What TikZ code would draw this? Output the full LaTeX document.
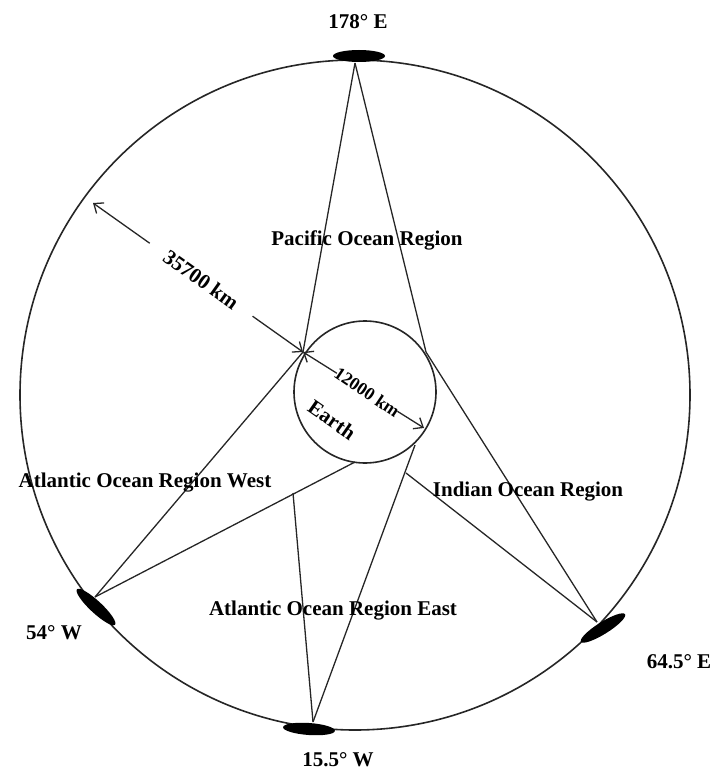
\documentclass[tikz,border=0pt]{standalone}
\usepackage{fontspec}
\setmainfont{Liberation Serif}
\usetikzlibrary{shapes.geometric,arrows.meta,calc}
\begin{document}
\begin{tikzpicture}[x=1pt,y=-1pt,
  lbl/.style={font=\fontsize{21}{24}\selectfont\bfseries, inner sep=1pt},
  smalllbl/.style={font=\fontsize{18}{20}\selectfont\bfseries, inner sep=1pt},
  sat/.style={ellipse, fill=black, draw=none, inner sep=0pt, minimum width=52pt, minimum height=12pt},
  link/.style={line width=1.3pt, black!85},
  dim/.style={line width=1.3pt, black!85, -{Straight Barb[length=8pt,width=13pt,line width=1.3pt]}},
  ring/.style={line width=1.6pt, black!85}
]
\useasboundingbox (0,0) rectangle (714,773);

% orbit and Earth
\node[circle, ring, draw, minimum size=670pt, inner sep=0pt] (orbit) at (355,395) {};
\node[circle, ring, draw, minimum size=142pt, inner sep=0pt] (earth) at (365,392) {};

% contact points of satellites
\coordinate (T) at (355,63);
\coordinate (W) at (95,597);
\coordinate (E) at (597,622);
\coordinate (S) at (313,722);
% junctions near Earth
\coordinate (A) at (303,352);
\coordinate (B) at (426,352);
\coordinate (C) at (355,462);
\coordinate (D) at (293,493);
\coordinate (F) at (406,473);
\coordinate (G) at (415,445);
\coordinate (P) at (93,203);
\coordinate (Q) at (424,428);

% satellites
\node[sat] (s178) at (359,56) {};
\node[sat, rotate=-43] (s54) at (96,607) {};
\node[sat, rotate=32] (s645) at (603,628) {};
\node[sat, rotate=-4] (s155) at (309,729) {};

% coverage lines
\draw[link] (T) -- (A);
\draw[link] (T) -- (B);
\draw[link] (W) -- (A);
\draw[link] (W) -- (C);
\draw[link] (E) -- (B);
\draw[link] (E) -- (F);
\draw[link] (S) -- (D);
\draw[link] (S) -- (G);

% dimension arrows
\draw[dim] ($(P)!0.27!(A)$) -- (P);
\draw[dim] ($(P)!0.76!(A)$) -- (A);
\node[lbl, rotate=-35.5] (d1) at ($(P)!0.515!(A)$) {35700 km};
\draw[dim] ($(A)!0.28!(Q)$) -- (A);
\draw[dim] ($(A)!0.78!(Q)$) -- (Q);
\node[smalllbl, rotate=-34] (d2) at ($(A)!0.53!(Q)$) {12000 km};
\node[lbl, rotate=-35] (earthlbl) at (332,420) {Earth};

% labels
\node[lbl] (l178) at (358,22) {178° E};
\node[lbl] (l54) at (54,633) {54° W};
\node[lbl] (l645) at (679,662) {64.5° E};
\node[lbl] (l155) at (338,760) {15.5° W};
\node[lbl] (pac) at (367,240) {Pacific Ocean Region};
\node[lbl] (aorw) at (145,483) {Atlantic Ocean Region West};
\node[lbl] (ior) at (528,492) {Indian Ocean Region};
\node[lbl] (aore) at (333,611) {Atlantic Ocean Region East};
\end{tikzpicture}
\end{document}
